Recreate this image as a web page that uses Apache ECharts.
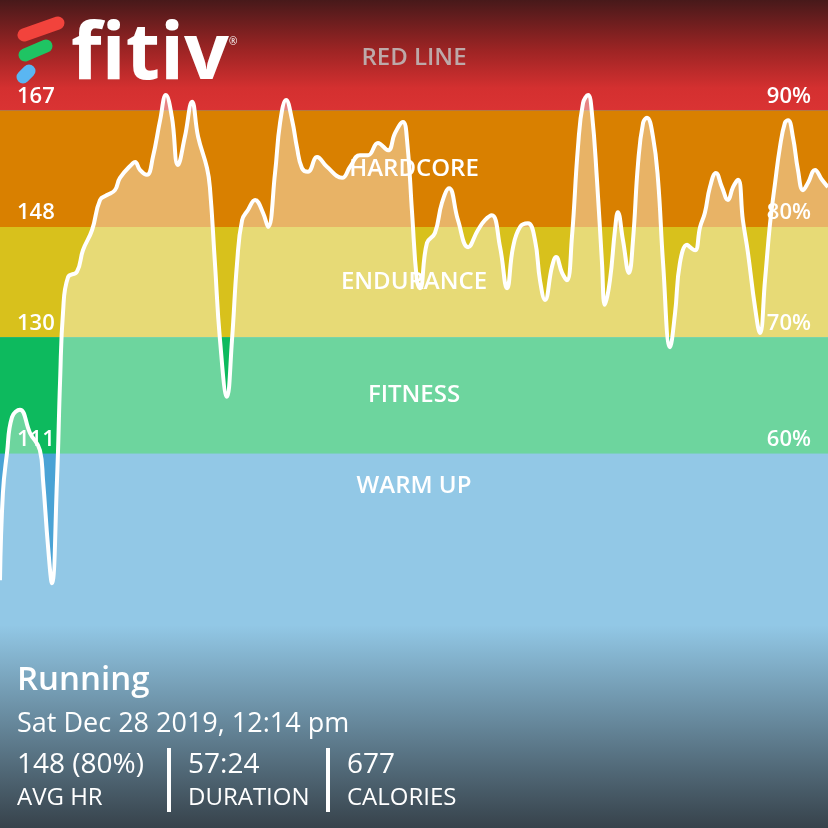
<!DOCTYPE html>
<html>
<head>
<meta charset="utf-8">
<script src="https://cdn.jsdelivr.net/npm/echarts@6/dist/echarts.min.js"></script>
<style>
html,body{margin:0;padding:0;background:#8fc9e6;}
#chart{width:828px;height:828px;}
</style>
</head>
<body>
<div id="chart"></div>
<script>
// Time since start (seconds) and heart rate (bpm)
const timeSec = [0,12,29,50,83,125,166,179,200,216,237,250,262,283,320,345,383,416,445,478,499,553,562,582,611,636,666,690,715,740,769,799,824,861,873,894,915,944,965,986,1007,1032,1061,1094,1115,1144,1165,1190,1215,1235,1256,1281,1319,1360,1423,1456,1497,1531,1572,1614,1643,1676,1693,1714,1734,1747,1776,1809,1838,1868,1905,1947,1988,2017,2046,2080,2109,2134,2163,2196,2225,2246,2267,2296,2313,2338,2358,2379,2404,2425,2446,2462,2483,2504,2516,2537,2558,2570,2591,2616,2633,2654,2675,2691,2716,2737,2758,2787,2808,2828,2858,2870,2891,2912,2932,2953,2978,3003,3028,3049,3070,3090,3111,3140,3161,3182,3203,3224,3244,3265,3278,3298,3319,3340,3361,3390,3419,3444];
const heartRate = [90.4,104.6,111.1,117.0,118.2,114.4,111.6,106.7,95.8,89.9,106.7,123.0,134.0,139.8,140.7,144.2,147.5,152.4,153.2,154.0,156.0,158.4,158.6,157.3,156.5,159.4,165.4,169.5,165.9,158.1,162.7,168.4,162.7,157.6,154.5,142.1,129.6,120.3,129.6,142.1,149.1,150.8,152.4,150.3,148.0,156.8,165.0,168.7,165.4,161.0,157.6,157.0,159.4,157.8,156.0,157.8,159.7,159.7,161.7,160.5,163.3,165.1,162.2,150.3,139.3,138.0,145.4,147.0,151.9,154.3,149.1,144.7,147.5,149.1,149.9,144.7,138.0,144.7,148.0,148.6,145.9,139.3,136.1,141.5,143.1,140.5,139.3,146.4,161.0,168.2,169.5,166.6,155.7,142.1,135.3,139.3,147.5,150.4,145.9,140.5,145.9,158.4,165.0,165.8,162.7,155.7,142.1,128.4,134.0,142.1,145.1,144.7,144.2,148.0,150.3,154.5,156.8,154.5,152.4,154.5,155.7,149.1,143.8,135.0,130.7,139.3,148.6,155.2,161.0,165.0,165.4,162.7,157.3,154.0,155.2,157.3,155.7,154.5];

// Zones
const zoneNames = ['RED LINE','HARDCORE','ENDURANCE','FITNESS','WARM UP'];
const zoneUpper = [185,167,148,130,111];
const zoneLower = [167,148,130,111,50];
const thresholdBpm = [167,148,130,111];
const thresholdPct = ['90%','80%','70%','60%'];

// Summary
const activity = 'Running';
const dateText = 'Sat Dec 28 2019, 12:14 pm';
const statValues = ['148 (80%)','57:24','677'];
const statLabels = ['AVG HR','DURATION','CALORIES'];

// ---- styles ----
const zoneColors = [
  {type:'linear',x:0,y:0,x2:0,y2:1,colorStops:[{offset:0,color:'#47191a'},{offset:0.45,color:'#9c2424'},{offset:0.8,color:'#d43030'},{offset:1,color:'#da3333'}]},
  '#d98000','#d8c11c','#0dba5e','#4aa3d5'
];
const zoneLabelColors = ['#bda9a9','#ffffff','#ffffff','#ffffff','#ffffff'];
const FONT = 'Open Sans';
const statX = [17,188,347];

const chart = echarts.init(document.getElementById('chart'), null, {renderer:'canvas'});

const bandData = zoneNames.map((n,i)=>[
  {yAxis: zoneUpper[i], itemStyle:{color: zoneColors[i]}},
  {yAxis: zoneLower[i]}
]);
const labelAreaData = zoneNames.map((n,i)=>[
  {yAxis: zoneUpper[i], name: n,
   label:{show:true, position: i===zoneNames.length-1 ? 'insideTop' : 'inside',
          offset: i===0 ? [0,3] : [0,0],
          distance: 20, color: zoneLabelColors[i], fontFamily: FONT, fontWeight: 600, fontSize: 24}},
  {yAxis: zoneLower[i]}
]);
const markLineData = [];
thresholdBpm.forEach((v,i)=>{
  markLineData.push({yAxis:v, label:{show:true, position:'insideStartTop', formatter:String(v)}});
  markLineData.push({yAxis:v, label:{show:true, position:'insideEndTop', formatter:thresholdPct[i]}});
});

const graphics = [
  // bottom fade
  {type:'rect', z:100, shape:{x:0,y:625,width:828,height:203},
   style:{fill:{type:'linear',x:0,y:0,x2:0,y2:1,colorStops:[{offset:0,color:'rgba(52,62,70,0)'},{offset:1,color:'rgba(52,62,70,0.97)'}]}}},
  // logo icon
  {type:'line', z:101, shape:{x1:24,y1:35,x2:58,y2:23}, style:{stroke:'#f2433c',lineWidth:13,lineCap:'round'}},
  {type:'line', z:101, shape:{x1:25,y1:55,x2:46,y2:46}, style:{stroke:'#1fc463',lineWidth:13,lineCap:'round'}},
  {type:'line', z:101, shape:{x1:23,y1:77,x2:29,y2:71}, style:{stroke:'#5ab6f2',lineWidth:13,lineCap:'round'}},
  {type:'text', z:101, style:{x:71,y:56,text:'fitiv',fill:'#ffffff',font:'bold 79px "Open Sans"',textVerticalAlign:'middle'}},
  {type:'text', z:101, style:{x:229,y:42,text:'®',fill:'#ffffff',font:'10px "Open Sans"',textVerticalAlign:'middle'}},
  // summary
  {type:'text', z:101, style:{x:17,y:681,text:activity,fill:'#ffffff',font:'600 33px "Open Sans"',textVerticalAlign:'middle'}},
  {type:'text', z:101, style:{x:17,y:724,text:dateText,fill:'#ffffff',font:'400 27px "Open Sans"',textVerticalAlign:'middle'}},
  {type:'rect', z:101, shape:{x:167,y:748,width:4,height:64}, style:{fill:'#ffffff'}},
  {type:'rect', z:101, shape:{x:326,y:748,width:4,height:64}, style:{fill:'#ffffff'}}
];
statValues.forEach((s,i)=>{
  graphics.push({type:'text', z:101, style:{x:statX[i],y:765,text:s,fill:'#ffffff',font:'400 28px "Open Sans"',textVerticalAlign:'middle'}});
  graphics.push({type:'text', z:101, style:{x:statX[i],y:798,text:statLabels[i],fill:'#ffffff',font:'400 24px "Open Sans"',textVerticalAlign:'middle'}});
});

chart.setOption({
  animation:false,
  backgroundColor:'#4aa3d5',
  grid:{left:0,right:0,top:0,bottom:0},
  xAxis:{type:'value',min:0,max:3444,show:false},
  yAxis:{type:'value',min:50,max:185,show:false},
  series:[
    {type:'line', z:1, data:[], silent:true,
     markArea:{silent:true, z:1, data: bandData}},
    {type:'line', z:2, data: timeSec.map((t,i)=>[t,heartRate[i]]),
     smooth:0.45, symbol:'none',
     lineStyle:{color:'#ffffff',width:4},
     areaStyle:{color:'#ffffff',opacity:0.4,origin:'start'}},
    {type:'line', z:5, data:[], silent:true,
     markArea:{silent:true, z:10, itemStyle:{color:'rgba(0,0,0,0)'}, data: labelAreaData},
     markLine:{silent:true, z:10, symbol:'none', lineStyle:{color:'rgba(0,0,0,0)',width:0,opacity:1},
       label:{color:'#ffffff', fontFamily:FONT, fontWeight:600, fontSize:22, distance:[17,3], opacity:1},
       data: markLineData}}
  ],
  graphic: graphics
});
</script>
</body>
</html>
